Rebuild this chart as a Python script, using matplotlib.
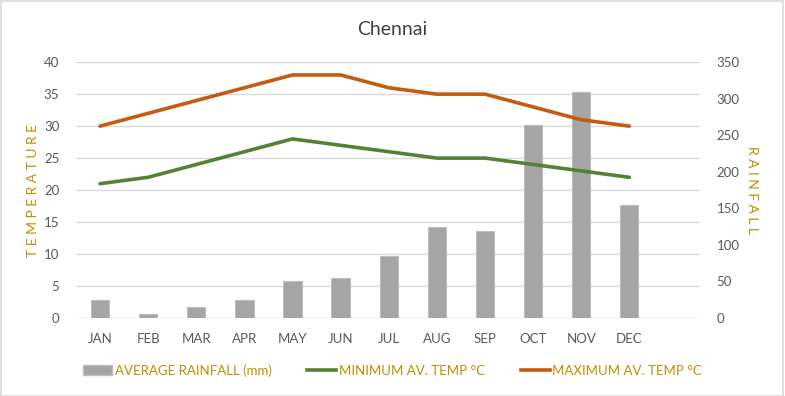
import numpy as np
import matplotlib
matplotlib.use('Agg')
import matplotlib.pyplot as plt
from matplotlib.patches import Patch, Rectangle
from matplotlib.lines import Line2D

plt.rcParams['font.family'] = ['Lato', 'DejaVu Sans']

# data
months = ['JAN', 'FEB', 'MAR', 'APR', 'MAY', 'JUN', 'JUL', 'AUG', 'SEP', 'OCT', 'NOV', 'DEC']
rainfall = [25, 5, 15, 25, 50, 55, 85, 124, 119, 264, 309, 154]
min_temp = [21, 22, 24, 26, 28, 27, 26, 25, 25, 24, 23, 22]
max_temp = [30, 32, 34, 36, 38, 38, 36, 35, 35, 33, 31, 30]

gold = '#BF8F00'
grey_txt = '#595959'

fig = plt.figure(figsize=(7.85, 3.96), dpi=100)
ax = fig.add_axes([0.0968, 0.197, 0.795, 0.646])
ax2 = ax.twinx()

x = np.arange(len(months))

# bars on the rainfall axis, drawn behind the lines
ax2.bar(x, rainfall, width=0.38, color='#A5A5A5', edgecolor='#BDBDBD', linewidth=0.8, zorder=2)
ax2.set_ylim(0, 350)
ax2.set_yticks(range(0, 351, 50))

ax.set_zorder(ax2.get_zorder() + 1)
ax.patch.set_visible(False)
ax.plot(x, min_temp, color='#548235', lw=2.6, solid_capstyle='round', zorder=3)
ax.plot(x, max_temp, color='#C55A11', lw=2.6, solid_capstyle='round', zorder=3)
ax.set_ylim(0, 40)
ax.set_yticks(range(0, 41, 5))
ax.set_xlim(-0.5, 12.47)
ax.set_xticks(x)
ax.set_xticklabels(months)

for g in range(0, 41, 5):
    ax2.axhline(g * 350 / 40, color='#D9D9D9', lw=1, zorder=0)

for a in (ax, ax2):
    for s in a.spines.values():
        s.set_visible(False)
    a.tick_params(length=0, colors=grey_txt, labelsize=9.5)
ax.tick_params(axis='x', pad=11)
ax.tick_params(axis='y', pad=12)
ax2.tick_params(axis='y', pad=12)

ax.set_ylabel('T E M P E R A T U R E', color=gold, fontsize=10, va='center')
ax.yaxis.set_label_coords(-0.069, 0.5)
ax2.set_ylabel('R A I N F A L L', color=gold, fontsize=10, rotation=270, va='center')
ax2.yaxis.set_label_coords(1.083, 0.5)

fig.text(0.5, 0.925, 'Chennai', ha='center', va='center', fontsize=14, color='#404040')

handles = [Patch(facecolor='#A5A5A5', edgecolor='#BDBDBD'),
           Line2D([0], [0], color='#548235', lw=2.6),
           Line2D([0], [0], color='#C55A11', lw=2.6)]
labels = ['AVERAGE RAINFALL (mm)', 'MINIMUM AV. TEMP \u00b0C', 'MAXIMUM AV. TEMP \u00b0C']
leg = fig.legend(handles, labels, loc='center', bbox_to_anchor=(0.5, 0.065), ncol=3,
                 frameon=False, fontsize=9.5, handlelength=2.2, handletextpad=0.2,
                 columnspacing=2.7)
for t in leg.get_texts():
    t.set_color(gold)

fig.patches.append(Rectangle((0.001, 0.001), 0.997, 0.996, transform=fig.transFigure,
                             fill=False, edgecolor='#D9D9D9', lw=1.2))

fig.savefig('out.png', dpi=100)
